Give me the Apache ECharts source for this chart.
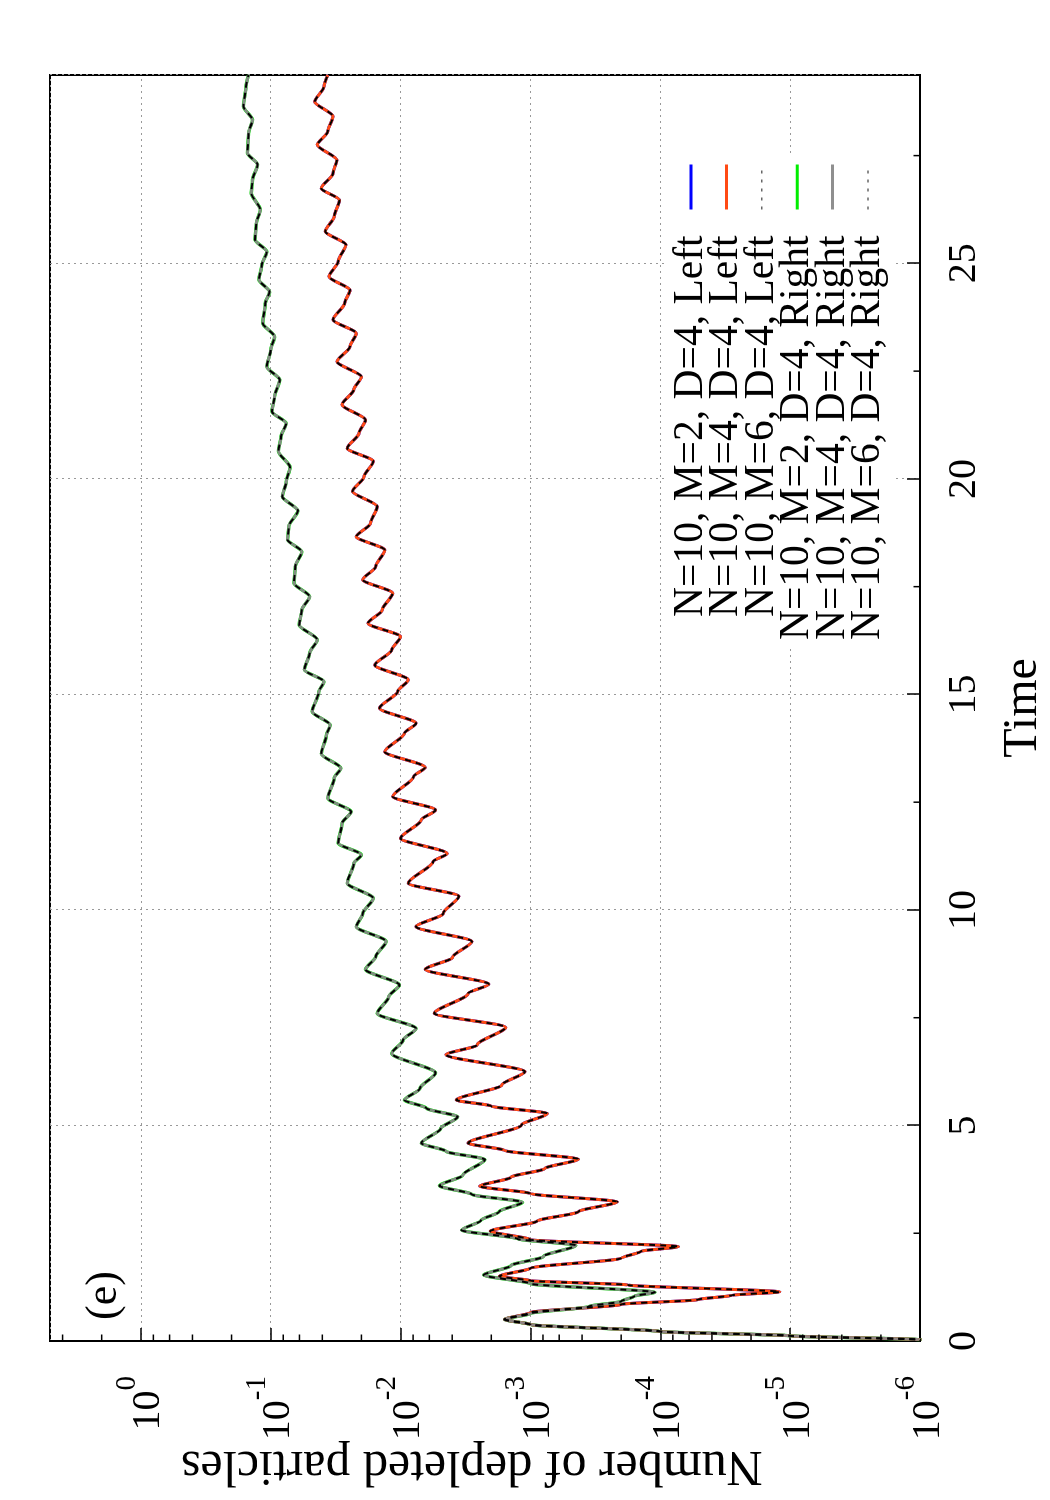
<!DOCTYPE html>
<html><head><meta charset="utf-8">
<script src="https://cdn.jsdelivr.net/npm/echarts@6/dist/echarts.min.js"></script>
<style>
html,body{margin:0;padding:0;background:#fff;width:1050px;height:1500px;overflow:hidden;}
#rot{position:absolute;left:0;top:0;width:1500px;height:1050px;transform-origin:0 0;transform:translate(0px,1500px) rotate(-90deg);}
#chart{width:1500px;height:1050px;}
</style></head><body>
<div id="rot"><div id="chart"></div></div>
<script>
// ---- data ----
const timeRight = [0,0.03,0.12,0.22,0.38,0.50,0.64,0.80,0.92,1.04,1.13,1.33,1.53,1.75,1.96,2.22,2.37,2.57,2.80,3.00,3.22,3.40,3.60,3.85,4.21,4.40,4.59,4.93,5.20,5.40,5.59,5.86,6.22,6.67,6.98,7.25,7.60,7.99,8.26,8.62,8.92,9.27,9.61,9.92,10.27,10.62,11.08,11.28,11.55,12.01,12.28,12.59,13.06,13.29,13.62,14.06,14.29,14.60,15.05,15.30,15.57,15.96,16.27,16.61,16.96,17.27,17.58,17.97,18.31,18.59,18.90,19.26,19.59,19.93,20.27,20.64,20.98,21.29,21.56,21.91,22.30,22.60,22.99,23.30,23.61,24.07,24.34,24.62,24.96,25.27,25.55,25.93,26.24,26.63,26.94,27.29,27.56,28.02,28.33,28.64,29.10,29.37];
const valueRight = [5.0e-7,1.0e-6,1.0e-5,1.0e-4,1.0e-3,1.58e-3,1.0e-3,3.55e-4,2.0e-4,1.58e-4,1.10e-4,1.0e-3,2.29e-3,1.41e-3,7.94e-4,4.47e-4,1.26e-3,3.39e-3,2.40e-3,1.74e-3,1.15e-3,2.82e-3,5.01e-3,3.31e-3,2.24e-3,4.47e-3,6.92e-3,4.90e-3,3.63e-3,6.31e-3,9.33e-3,7.08e-3,5.37e-3,1.17e-2,9.55e-3,7.59e-3,1.51e-2,1.23e-2,1.02e-2,1.86e-2,1.55e-2,1.29e-2,2.19e-2,1.95e-2,1.62e-2,2.57e-2,2.29e-2,2.00e-2,3.02e-2,2.82e-2,2.40e-2,3.63e-2,3.24e-2,2.88e-2,4.07e-2,3.72e-2,3.47e-2,4.79e-2,4.27e-2,3.89e-2,5.50e-2,5.01e-2,4.37e-2,6.03e-2,5.75e-2,5.01e-2,6.61e-2,6.46e-2,5.75e-2,7.41e-2,7.24e-2,6.17e-2,8.13e-2,7.59e-2,7.08e-2,8.71e-2,8.32e-2,7.59e-2,9.77e-2,9.33e-2,8.51e-2,1.07e-1,1.00e-1,9.33e-2,1.15e-1,1.10e-1,1.02e-1,1.23e-1,1.17e-1,1.07e-1,1.32e-1,1.29e-1,1.20e-1,1.41e-1,1.38e-1,1.26e-1,1.51e-1,1.48e-1,1.38e-1,1.62e-1,1.55e-1,1.48e-1];
const timeLeft = [0,0.03,0.12,0.22,0.38,0.50,0.66,0.85,0.96,1.06,1.14,1.30,1.40,1.50,1.69,1.92,2.08,2.19,2.35,2.55,2.78,3.00,3.23,3.42,3.59,3.80,4.00,4.22,4.42,4.59,5.01,5.28,5.45,5.59,5.94,6.25,6.64,6.87,7.28,7.60,8.06,8.28,8.62,8.90,9.27,9.61,9.92,10.32,10.62,11.12,11.31,11.66,12.09,12.32,12.63,13.09,13.31,13.67,14.10,14.33,14.68,15.07,15.34,15.68,16.03,16.34,16.65,16.96,17.35,17.66,17.97,18.35,18.66,18.97,19.36,19.71,20.05,20.41,20.71,21.06,21.37,21.72,22.07,22.37,22.72,23.07,23.38,23.69,24.08,24.38,24.69,25.05,25.43,25.74,26.09,26.47,26.74,27.09,27.40,27.75,28.06,28.41,28.75,29.10,29.37];
const valueLeft = [5.0e-7,1.0e-6,1.0e-5,1.0e-4,1.0e-3,1.58e-3,1.0e-3,2.0e-4,5.13e-5,2.82e-5,1.20e-5,1.78e-4,1.0e-3,1.74e-3,1.0e-3,2.0e-4,1.41e-4,7.24e-5,1.0e-3,2.04e-3,8.91e-4,4.27e-4,2.14e-4,1.0e-3,2.45e-3,1.41e-3,7.76e-4,4.27e-4,1.58e-3,3.02e-3,1.17e-3,7.41e-4,2.0e-3,3.72e-3,1.66e-3,1.10e-3,4.47e-3,2.57e-3,1.55e-3,5.50e-3,3.02e-3,2.09e-3,6.46e-3,3.98e-3,2.82e-3,7.59e-3,4.68e-3,3.55e-3,8.71e-3,5.62e-3,4.37e-3,1.0e-2,6.92e-3,5.37e-3,1.15e-2,7.94e-3,6.46e-3,1.32e-2,9.33e-3,7.59e-3,1.45e-2,1.05e-2,8.71e-3,1.58e-2,1.17e-2,1.0e-2,1.78e-2,1.38e-2,1.15e-2,1.95e-2,1.55e-2,1.32e-2,2.19e-2,1.70e-2,1.51e-2,2.34e-2,1.91e-2,1.62e-2,2.57e-2,2.09e-2,1.86e-2,2.82e-2,2.29e-2,2.0e-2,3.09e-2,2.45e-2,2.19e-2,3.31e-2,2.69e-2,2.45e-2,3.55e-2,3.02e-2,2.63e-2,3.80e-2,3.24e-2,2.95e-2,4.07e-2,3.31e-2,3.09e-2,4.37e-2,3.63e-2,3.31e-2,4.57e-2,3.89e-2,3.63e-2];
const seriesNames = ['N=10, M=2, D=4, Left','N=10, M=4, D=4, Left','N=10, M=6, D=4, Left','N=10, M=2, D=4, Right','N=10, M=4, D=4, Right','N=10, M=6, D=4, Right'];
const timeTickLabels = [0,5,10,15,20,25];
const timeMinorTicks = [2.5,7.5,12.5,17.5,22.5,27.5];
const logTickExponents = [-6,-5,-4,-3,-2,-1,0];
const logMinorTicks = [2e-6,4e-6,6e-6,8e-6,2e-5,4e-5,6e-5,8e-5,2e-4,4e-4,6e-4,8e-4,2e-3,4e-3,6e-3,8e-3,2e-2,4e-2,6e-2,8e-2,2e-1,4e-1,6e-1,8e-1,2,4];
const panelLabel = '(e)';

// ---- chart ----
const FONT = "'Liberation Serif','Times New Roman',serif";
const chart = echarts.init(document.getElementById('chart'), null, {renderer:'canvas'});
const pairs = (t, v) => t.map((x, i) => [x, v[i]]);
const dataLeft = pairs(timeLeft, valueLeft);
const dataRight = pairs(timeRight, valueRight);
function line(name, data, color, width, type, opacity, z) {
  return {name, type:'line', data, symbol:'none', showSymbol:false, smooth:0.25, smoothMonotone:'x',
    lineStyle:{color, width, type, opacity}, itemStyle:{color}, clip:true, z, animation:false,
    emphasis:{disabled:true}};
}
const series = [
  line(seriesNames[0], dataLeft, '#0000ff', 3, 'solid', 1, 2),
  line(seriesNames[1], dataLeft, '#ff4a14', 3, 'solid', 1, 3),
  line(seriesNames[2], dataLeft, '#000000', 2, [6,5], 1, 4),
  line(seriesNames[3], dataRight, '#00ee00', 3.3, 'solid', 1, 2),
  line(seriesNames[4], dataRight, '#888888', 3, 'solid', 0.94, 3),
  line(seriesNames[5], dataRight, '#000000', 2, [6,5], 1, 4),
  {type:'custom', name:'logMinor', silent:true, z:5, clip:false, data: logMinorTicks.map(v => [0, v]),
    renderItem:(p, api) => { const c = api.coord([0, api.value(1)]);
      return {type:'line', shape:{x1:c[0], y1:c[1], x2:c[0]+6.5, y2:c[1]}, style:{stroke:'#000', lineWidth:1.5}}; }},
  {type:'custom', name:'timeMinor', silent:true, z:5, clip:false, data: timeMinorTicks.map(t => [t, 1e-6]),
    renderItem:(p, api) => { const c = api.coord([api.value(0), 1e-6]);
      return {type:'line', shape:{x1:c[0], y1:c[1], x2:c[0], y2:c[1]-6.5}, style:{stroke:'#000', lineWidth:1.5}}; }}
];
const legendData = seriesNames.map((n, i) => (i === 2 || i === 5)
  ? {name:n, lineStyle:{color:'#666', width:1.5, type:[3,6]}} : {name:n});
chart.setOption({
  backgroundColor:'#ffffff',
  animation:false,
  textStyle:{fontFamily:FONT},
  grid:{left:159, right:75, top:50, bottom:130, show:true, borderColor:'#000', borderWidth:2,
    backgroundColor:'transparent', containLabel:false, outerBoundsMode:'none'},
  xAxis:{type:'value', min:0, max:29.37, interval:5,
    name:'Time', nameLocation:'middle', nameGap:79,
    nameTextStyle:{fontFamily:FONT, fontSize:48, color:'#000'},
    axisLine:{lineStyle:{color:'#000', width:2}},
    axisTick:{inside:true, length:13, lineStyle:{color:'#000', width:1.5}},
    axisLabel:{margin:24, fontFamily:FONT, fontSize:40, color:'#000', showMaxLabel:false,
      formatter:v => timeTickLabels.indexOf(v) >= 0 ? String(v) : ''},
    splitLine:{show:true, lineStyle:{color:'#999', width:1, type:[2,4]}},
    minorTick:{show:false}},
  yAxis:{type:'log', logBase:10, min:1e-6, max:5,
    name:'Number of depleted particles', nameLocation:'middle', nameGap:99, nameMoveOverlap:false,
    nameTextStyle:{fontFamily:FONT, fontSize:50, color:'#000', padding:[0,0,0,26]},
    axisLine:{lineStyle:{color:'#000', width:2}},
    axisTick:{inside:true, length:13, lineStyle:{color:'#000', width:1.5}},
    axisLabel:{margin:35, fontFamily:FONT, color:'#000', showMaxLabel:false,
      formatter:v => { const e = Math.round(Math.log10(v));
        if (Math.abs(Math.log10(v) - e) > 1e-6 || logTickExponents.indexOf(e) < 0) return '';
        return '{b|10}{s|' + e + '}'; },
      rich:{b:{fontFamily:FONT, fontSize:40, lineHeight:56, verticalAlign:'bottom', color:'#000'},
            s:{fontFamily:FONT, fontSize:29, lineHeight:36, verticalAlign:'top', color:'#000'}}},
    splitLine:{show:true, lineStyle:{color:'#999', width:1, type:[2,4]}}},
  legend:{data:legendData, orient:'vertical', align:'right', right:155, top:668,
    padding:[2,8,4,8], backgroundColor:'#ffffff', itemGap:-6.6, itemWidth:45, itemHeight:12,
    selectedMode:false, inactiveColor:'#ccc',
    lineStyle:{width:3},
    itemStyle:{opacity:0},
    textStyle:{fontFamily:FONT, fontSize:41.5, color:'#000', padding:[0,21,0,0]}},
  graphic:[{type:'text', left:180, top:82, z:10,
    style:{text:panelLabel, font:"44px 'Liberation Serif','Times New Roman',serif", fill:'#000'}}],
  series
});
</script>
</body></html>
